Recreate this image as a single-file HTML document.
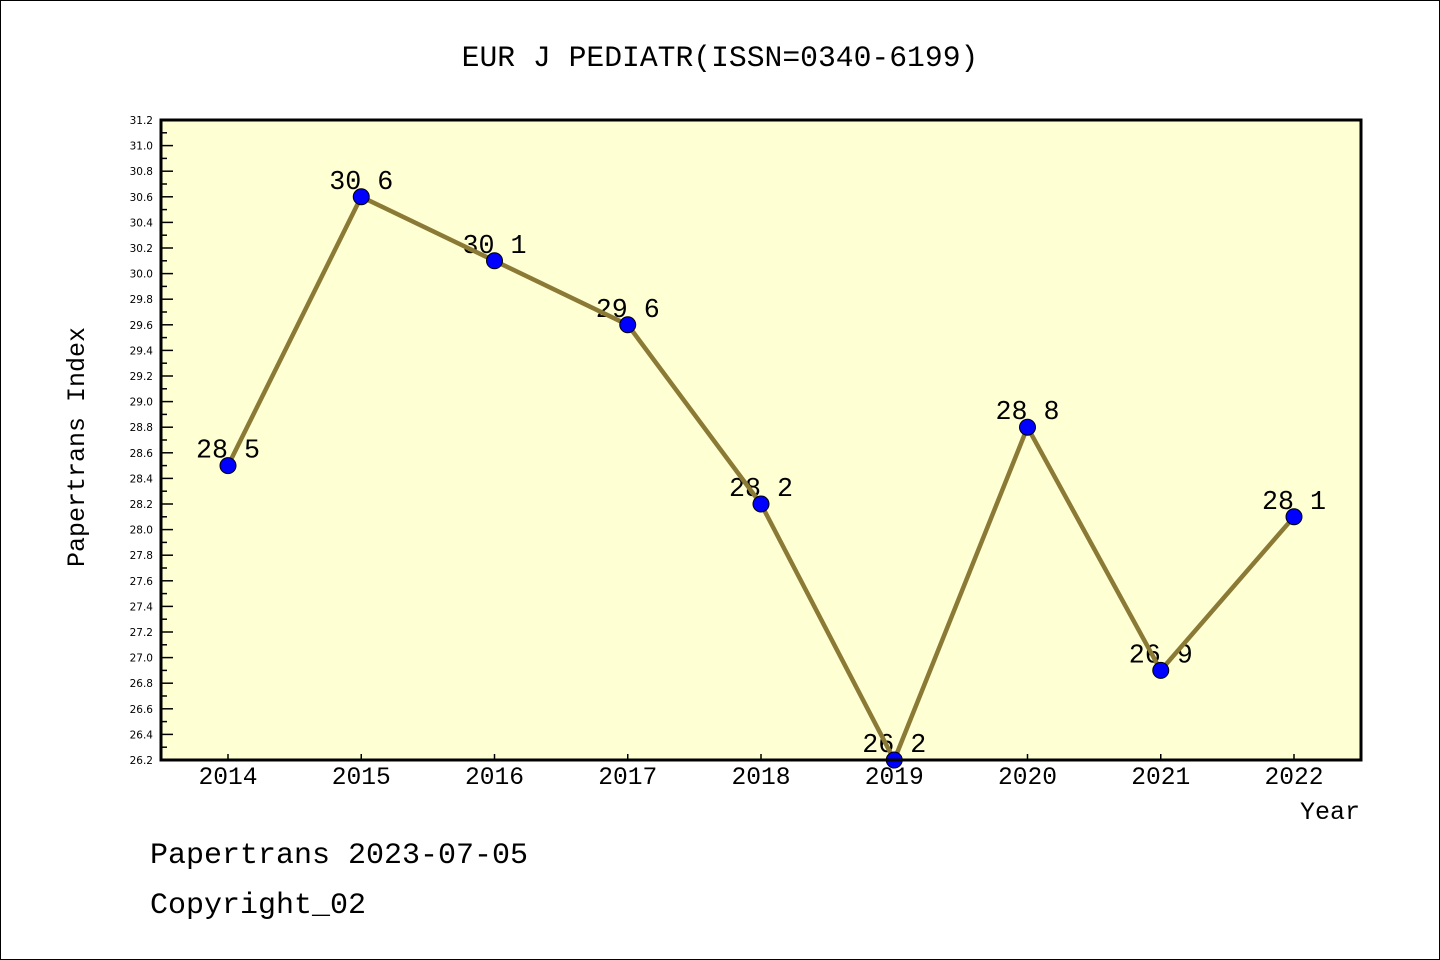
<!DOCTYPE html>
<html><head><meta charset="utf-8"><style>
html,body{margin:0;padding:0;background:#fff}
svg{display:block}
text{font-family:"Liberation Mono","DejaVu Sans Mono",monospace;fill:#000}
text.tk{font-family:"DejaVu Sans","Liberation Sans",sans-serif}
</style></head><body>
<svg id="chart" width="1440" height="960" xmlns="http://www.w3.org/2000/svg">
<rect x="0.5" y="0.5" width="1439" height="959" fill="#fff" stroke="#000" stroke-width="1"/>
<text x="720" y="66" font-size="29.7" text-anchor="middle">EUR J PEDIATR(ISSN=0340-6199)</text>
<rect x="161" y="120" width="1200" height="640" fill="#ffffd4"/>
<g id="yaxis"></g>
<g id="xaxis"></g>
<g id="labels"></g>
<polyline id="line" fill="none" stroke="#8b7a35" stroke-width="4.5" stroke-linejoin="round"/>
<g id="points"></g>
<rect x="161" y="120" width="1200" height="640" fill="none" stroke="#000" stroke-width="3"/>
<text transform="translate(84,447) rotate(-90)" font-size="25" text-anchor="middle">Papertrans Index</text>
<text x="1360" y="819" font-size="25" text-anchor="end">Year</text>
<text x="150" y="863" font-size="30">Papertrans 2023-07-05</text>
<text x="150" y="913" font-size="30">Copyright_02</text>
</svg>
<script>
const categories = ["2014","2015","2016","2017","2018","2019","2020","2021","2022"];
const values = [28.5,30.6,30.1,29.6,28.2,26.2,28.8,26.9,28.1];
const valueLabels = ["28 5","30 6","30 1","29 6","28 2","26 2","28 8","26 9","28 1"];
const yMin = 26.2, yMax = 31.2, yStep = 0.2;
const NS = "http://www.w3.org/2000/svg";
const L=161,R=1361,T=120,B=760;
const x0=228,x1=1294;
function xs(i){return x0+(x1-x0)*i/(categories.length-1);}
function ys(v){return B-(v-yMin)/(yMax-yMin)*(B-T);}
function mk(tag,attrs,parent){const e=document.createElementNS(NS,tag);for(const k in attrs)e.setAttribute(k,attrs[k]);parent.appendChild(e);return e;}
const ya=document.getElementById('yaxis');
const n=Math.round((yMax-yMin)/yStep);
for(let i=0;i<=n;i++){
  const v=yMin+i*yStep, y=ys(v);
  const tk=mk('line',{x1:L,x2:L+12,y1:y,y2:y,stroke:'#000','stroke-width':1.5},ya);
  
  
  if(i<n){const ym=ys(v+yStep/2);const mt=mk('line',{x1:L,x2:L+6,y1:ym,y2:ym,stroke:'#000','stroke-width':1.5},ya);
    
    }
  const t=mk('text',{x:L-8,y:y+4,'font-size':10.5,'text-anchor':'end','class':'tk'},ya);
  
  
  t.textContent=v.toFixed(1);
}
const xa=document.getElementById('xaxis');
categories.forEach((c,i)=>{
  const x=xs(i);
  const tk=mk('line',{x1:x,x2:x,y1:B,y2:B-6,stroke:'#000','stroke-width':1.5},xa);
  
  
  const t=mk('text',{x:x,y:784,'font-size':24.6,'text-anchor':'middle'},xa);
  
  
  t.textContent=c;
});
const lb=document.getElementById('labels');
const pts=document.getElementById('points');
document.getElementById('line').setAttribute('points',values.map((v,i)=>xs(i)+','+ys(v)).join(' '));
values.forEach((v,i)=>{
  const t=mk('text',{x:xs(i),y:ys(v)-8,'font-size':26.7,'text-anchor':'middle'},lb);
  
  
  t.textContent=valueLabels[i];
  const c=mk('circle',{cx:xs(i),cy:ys(v),r:8,fill:'#0000ff',stroke:'#000','stroke-width':1},pts);
  
  
});
</script>
</body></html>
